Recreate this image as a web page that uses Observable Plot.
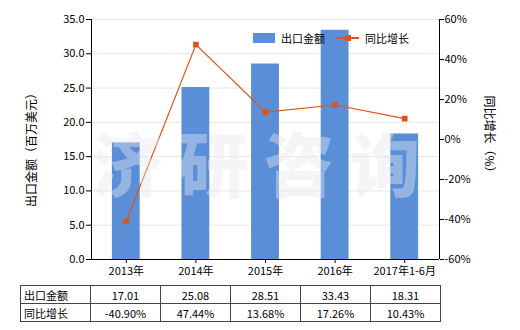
<!DOCTYPE html>
<html><head><meta charset="utf-8">
<script src="https://cdn.jsdelivr.net/npm/d3@7"></script>
<script src="https://cdn.jsdelivr.net/npm/@observablehq/plot@0.6"></script>
<style>
body{margin:0;background:#fff;font-family:"Noto Sans CJK SC","Noto Sans",sans-serif;}
#wrap{position:relative;width:520px;height:330px;overflow:hidden;background:#fff;}
#chart{position:absolute;left:0;top:0;}
.lab{position:absolute;font-size:12px;color:#000;white-space:nowrap;}
table{position:absolute;left:20px;top:285px;border-collapse:collapse;font-size:11px;}
td{border:1px solid #444;height:17px;padding:0;width:69px;text-align:center;}
td.h{text-align:left;padding-left:3px;width:66px;}
#wm{position:absolute;left:92px;top:112px;line-height:100px;font-size:70px;font-weight:900;color:rgba(232,232,238,0.42);letter-spacing:16px;white-space:nowrap;pointer-events:none;}
</style></head>
<body><div id="wrap"><div id="chart"></div></div>
<script>
const categories = ["2013年","2014年","2015年","2016年","2017年1-6月"];
const exportValues = [17.01, 25.08, 28.51, 33.43, 18.31];
const growthValues = [-40.90, 47.44, 13.68, 17.26, 10.43];
const leftTicks = [0,5,10,15,20,25,30,35];
const rightTicks = [-60,-40,-20,0,20,40,60];
const seriesNames = ["出口金额","同比增长"];

const rows = categories.map((c,i)=>({i, cat:c, value:exportValues[i], growth:growthValues[i]}));
const toLeft = p => (p + 60) / 120 * 35;
const toPct = v => v / 35 * 120 - 60;
const barColor = "#5a8fd7", lineColor = "#e0521c";

const chart = Plot.plot({
  width: 520, height: 283,
  marginTop: 19, marginBottom: 24, marginLeft: 91, marginRight: 81,
  style: {fontFamily: '"Noto Sans CJK SC", sans-serif', fontSize: "11px", color: "#000", background: "transparent"},
  x: {domain: [-0.5, 4.5], axis: null},
  y: {domain: [0, 35], axis: null},
  marks: [
    Plot.ruleY(leftTicks, {stroke: "#e8e8dc", strokeWidth: 1}),
    Plot.rectY(rows, {x1: d => d.i - 0.2, x2: d => d.i + 0.2, y: "value", fill: barColor}),
    Plot.line(rows, {x: "i", y: d => toLeft(d.growth), stroke: lineColor, strokeWidth: 1.2}),
    Plot.dot(rows, {x: "i", y: d => toLeft(d.growth), symbol: "square", r: 3.2, fill: lineColor, stroke: null}),
    Plot.ruleX([-0.5, 4.5], {stroke: "#000"}),
    Plot.ruleY([0], {stroke: "#000"}),
    Plot.axisY({anchor: "left", ticks: leftTicks, tickFormat: d => d.toFixed(1), tickSize: 5, tickPadding: 2, label: null}),
    Plot.axisY({anchor: "right", ticks: rightTicks.map(toLeft), tickFormat: v => Math.round(toPct(v)) + "%", tickSize: 4, tickPadding: 1, label: null}),
    Plot.axisX({ticks: rows.map(d => d.i), tickFormat: i => categories[i], tickSize: 4, tickPadding: 4, label: null})
  ]
});
const wrap = document.getElementById("wrap");
document.getElementById("chart").appendChild(chart);

// watermark
const wm = document.createElement("div"); wm.id = "wm"; wm.textContent = "济研咨询"; wrap.appendChild(wm);

// axis titles
const lt = document.createElement("div"); lt.className = "lab"; lt.textContent = "出口金额（百万美元）";
lt.style.cssText += "left:30px;top:147px;transform:translate(-50%,-50%) rotate(-90deg);";
wrap.appendChild(lt);
const rt = document.createElement("div"); rt.className = "lab"; rt.textContent = "同比增长（%）";
rt.style.cssText += "left:490px;top:137px;transform:translate(-50%,-50%) rotate(90deg);";
wrap.appendChild(rt);

// legend
const lg = document.createElement("div");
lg.style.cssText = "position:absolute;left:253px;top:29px;font-size:11px;display:flex;align-items:center;height:18px;";
lg.innerHTML = `<span style="display:inline-block;width:22px;height:10px;background:${barColor};"></span>
<span style="margin-left:6px;">${seriesNames[0]}</span>
<span style="position:relative;display:inline-block;width:22px;height:10px;margin-left:12px;">
<span style="position:absolute;left:0;top:4px;width:22px;height:2px;background:${lineColor};"></span>
<span style="position:absolute;left:8px;top:2px;width:6px;height:6px;background:${lineColor};"></span></span>
<span style="margin-left:6px;">${seriesNames[1]}</span>`;
wrap.appendChild(lg);

// table
const tbl = document.createElement("table");
const mk = (name, vals) => "<tr><td class='h'>" + name + "</td>" + vals.map(v => "<td>" + v + "</td>").join("") + "</tr>";
tbl.innerHTML = mk(seriesNames[0], exportValues.map(v => v.toFixed(2))) + mk(seriesNames[1], growthValues.map(v => v.toFixed(2) + "%"));
wrap.appendChild(tbl);
</script></body></html>
